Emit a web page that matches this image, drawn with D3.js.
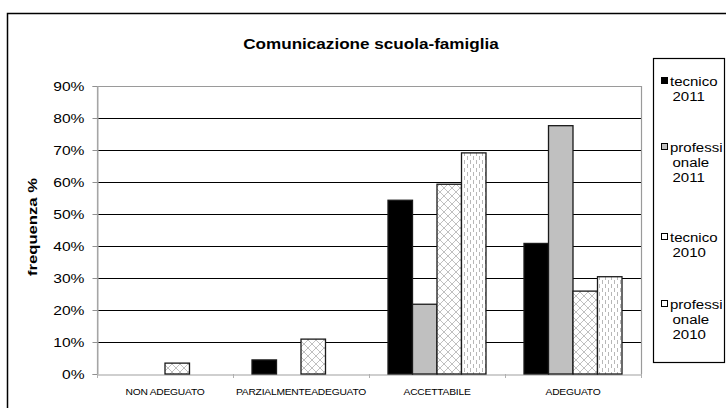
<!DOCTYPE html>
<html><head><meta charset="utf-8">
<script src="https://cdn.jsdelivr.net/npm/d3@7"></script>
<style>html,body{margin:0;padding:0;background:#fff;}svg{display:block;font-family:"Liberation Sans",Arial,sans-serif;}</style>
</head><body>
<svg id="c" width="726" height="408"></svg>
<script>
const categories = ["NON ADEGUATO", "PARZIALMENTEADEGUATO", "ACCETTABILE", "ADEGUATO"];
const seriesNames = ["tecnico 2011", "professionale 2011", "tecnico 2010", "professionale 2010"];
const legendLines = [["tecnico", "2011"], ["professi", "onale", "2011"], ["tecnico", "2010"], ["professi", "onale", "2010"]];
const tecnico2011 = [0, 0.044, 0.543, 0.408];
const professionale2011 = [0, 0, 0.218, 0.776];
const tecnico2010 = [0.034, 0.109, 0.593, 0.259];
const professionale2010 = [0, 0, 0.691, 0.304];
const yTicks = [0, 0.1, 0.2, 0.3, 0.4, 0.5, 0.6, 0.7, 0.8, 0.9];
const series = [tecnico2011, professionale2011, tecnico2010, professionale2010];

(function () {
const svg = d3.select("#c");
const defs = svg.append("defs");
const ph = defs.append("pattern").attr("id","cross").attr("patternUnits","userSpaceOnUse").attr("width",8).attr("height",8);
ph.append("rect").attr("width",8).attr("height",8).attr("fill","#fff");
ph.append("path").attr("d","M0,0L8,8M8,0L0,8").attr("stroke","#b0b0b0").attr("stroke-width",0.8);
const pd = defs.append("pattern").attr("id","dash").attr("patternUnits","userSpaceOnUse").attr("width",6).attr("height",8);
pd.append("rect").attr("width",6).attr("height",8).attr("fill","#fff");
pd.append("path").attr("d","M2.5,0V4").attr("stroke","#b8b8b8").attr("stroke-width",1);
pd.append("path").attr("d","M5.5,4V8").attr("stroke","#b8b8b8").attr("stroke-width",1);

const fills = ["#000000", "#c0c0c0", "url(#cross)", "url(#dash)"];
const legendFills = ["#000000", "#c0c0c0", "#ffffff", "#ffffff"];

function stretch(sel, k) {
  sel.each(function () {
    const w = this.getComputedTextLength();
    d3.select(this).attr("textLength", w * k).attr("lengthAdjust", "spacingAndGlyphs");
  });
}

svg.append("rect").attr("x",7.5).attr("y",13.5).attr("width",730).attr("height",410)
  .attr("fill","none").attr("stroke","#000").attr("stroke-width",1.5);

const pLeft = 97, pRight = 641, pTop = 86, pBottom = 374;
const x = d3.scaleBand().domain(categories).range([pLeft, pRight]).paddingInner(0).paddingOuter(0);
const xi = d3.scaleBand().domain(d3.range(4)).range([19, x.bandwidth() - 19]).padding(0);
const y = d3.scaleLinear().domain([0, 0.9]).range([pBottom, pTop]);

svg.append("g").selectAll("line").data(yTicks.filter(t => t > 0 && t < 0.9)).join("line")
  .attr("x1", pLeft).attr("x2", pRight).attr("y1", d => Math.round(y(d)) + 0.5).attr("y2", d => Math.round(y(d)) + 0.5)
  .attr("stroke", "#000").attr("stroke-width", 1);
svg.append("path").attr("d", `M${pLeft+0.5},${pBottom}V${pTop+0.5}H${pRight+0.5}V${pBottom}`)
  .attr("fill","none").attr("stroke","#9a9a9a").attr("stroke-width",1.2);

const yAxis = d3.axisLeft(y).tickValues(yTicks).tickFormat(d3.format(".0%")).tickSize(5).tickPadding(8);
const gy = svg.append("g").attr("transform", `translate(${pLeft+0.5},0)`).call(yAxis);
gy.select(".domain").attr("stroke", "#b0b0b0");
gy.selectAll(".tick line").attr("stroke", "#909090");
gy.selectAll("text").attr("font-size", 13).attr("fill", "#000").attr("font-family", "Liberation Sans, Arial, sans-serif");
stretch(gy.selectAll("text"), 1.2);

const xAxis = d3.axisBottom(x).tickSize(0).tickPadding(14);
const gx = svg.append("g").attr("transform", `translate(0,${pBottom+0.5})`).call(xAxis);
gx.select(".domain").attr("stroke", "#a0a0a0").attr("stroke-width", 1.2);
gx.selectAll("text").attr("font-size", 9.5).attr("fill", "#000").attr("font-family", "Liberation Sans, Arial, sans-serif").attr("letter-spacing", -0.2);
stretch(gx.selectAll("text"), 1.08);
svg.append("g").selectAll("line").data(categories.concat(["end"])).join("line")
  .attr("x1", (d, i) => pLeft + i * x.bandwidth() + 0.5).attr("x2", (d, i) => pLeft + i * x.bandwidth() + 0.5)
  .attr("y1", pBottom).attr("y2", pBottom + 4).attr("stroke", "#b0b0b0");

series.forEach((vals, si) => {
  svg.append("g").selectAll("rect").data(vals.map((v, ci) => ({v, c: categories[ci]})).filter(d => d.v > 0)).join("rect")
    .attr("x", d => x(d.c) + xi(si))
    .attr("width", xi.bandwidth())
    .attr("y", d => y(d.v))
    .attr("height", d => y(0) - y(d.v))
    .attr("fill", fills[si])
    .attr("stroke", "#1a1a1a").attr("stroke-width", 1.3);
});

const title = svg.append("text").attr("x", 371).attr("y", 49).attr("text-anchor", "middle")
  .attr("font-size", 15).attr("font-weight", "bold").text("Comunicazione scuola-famiglia");
stretch(title, 1.14);
const yt = svg.append("text").attr("transform", "translate(37,227) rotate(-90)").attr("text-anchor", "middle")
  .attr("font-size", 13).attr("font-weight", "bold").text("frequenza %");
stretch(yt, 1.28);

svg.append("rect").attr("x", 653.5).attr("y", 58.5).attr("width", 71).attr("height", 304)
  .attr("fill", "#fff").attr("stroke", "#000").attr("stroke-width", 1.2);
const legendY = [82, 148, 238, 305];
legendLines.forEach((lines, i) => {
  const g = svg.append("g");
  g.append("rect").attr("x", 661.5).attr("y", legendY[i] - 4.5).attr("width", 6).attr("height", 6)
    .attr("fill", legendFills[i]).attr("stroke", "#000").attr("stroke-width", 1);
  lines.forEach((t, j) => {
    const tx = g.append("text").attr("x", j === 0 ? 670 : 672.5).attr("y", legendY[i] + 4 + j * 15).attr("font-size", 12.5).text(t);
    stretch(tx, 1.2);
  });
});
})();
</script>
</body></html>
